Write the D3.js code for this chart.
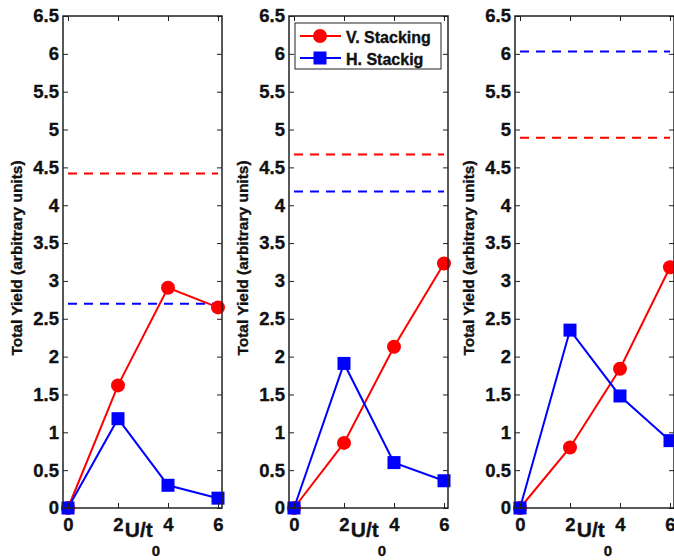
<!DOCTYPE html>
<html>
<head>
<meta charset="utf-8">
<script src="https://cdn.jsdelivr.net/npm/d3@7/dist/d3.min.js"></script>
<style>
  body { margin: 0; background: #fff; }
  svg text { font-family: "Liberation Sans", Arial, sans-serif; font-weight: bold; stroke: #111; stroke-width: 0.35px; }
</style>
</head>
<body>
<div id="viz"></div>
<script>
// data, one entry per panel
var uValues = [0, 2, 4, 6];
var vStacking = [
  [0, 1.62, 2.91, 2.65],
  [0, 0.86, 2.13, 3.23],
  [0, 0.80, 1.84, 3.18]
];
var hStacking = [
  [0, 1.18, 0.30, 0.13],
  [0, 1.91, 0.60, 0.36],
  [0, 2.35, 1.48, 0.89]
];
var vLimit = [4.42, 4.67, 4.89];   // red dashed
var hLimit = [2.70, 4.18, 6.03];   // blue dashed
var yTicks = [0, 0.5, 1, 1.5, 2, 2.5, 3, 3.5, 4, 4.5, 5, 5.5, 6, 6.5];
var xTicks = [0, 2, 4, 6];
var seriesNames = ["V. Stacking", "H. Stackig"];

var W = 674, H = 560;
var panelLeft = [63, 289, 515];
var panelW = 159;
var plotTop = 16, plotBottom = 508;   // "top" is taken by window.top

var svg = d3.select("#viz").append("svg")
  .attr("width", W)
  .attr("height", H);

var y = d3.scaleLinear().domain([0, 6.5]).range([plotBottom, plotTop]);

function drawPanel(i) {
  var x = d3.scaleLinear().domain([-0.2, 6.16]).range([panelLeft[i], panelLeft[i] + panelW]);
  var g = svg.append("g");

  // dashed reference levels
  var refs = [[vLimit[i], "#ff0000"], [hLimit[i], "#0000ff"]];
  refs.forEach(function(r) {
    g.append("line")
      .attr("x1", x(0)).attr("x2", x(6))
      .attr("y1", y(r[0])).attr("y2", y(r[0]))
      .style("stroke", r[1])
      .style("stroke-width", 2)
      .style("stroke-dasharray", "9,7");
  });

  var line = d3.line()
    .x(function(d, j) { return x(uValues[j]); })
    .y(function(d) { return y(d); });

  // V stacking, circles
  g.append("path").datum(vStacking[i])
    .attr("d", line)
    .style("fill", "none").style("stroke", "#ff0000").style("stroke-width", 2);
  g.selectAll(".vdot").data(vStacking[i]).enter().append("circle")
    .attr("cx", function(d, j) { return x(uValues[j]); })
    .attr("cy", function(d) { return y(d); })
    .attr("r", 7)
    .style("fill", "#ff0000");

  // H stacking, squares
  g.append("path").datum(hStacking[i])
    .attr("d", line)
    .style("fill", "none").style("stroke", "#0000ff").style("stroke-width", 2);
  g.selectAll(".hsq").data(hStacking[i]).enter().append("rect")
    .attr("x", function(d, j) { return x(uValues[j]) - 6.5; })
    .attr("y", function(d) { return y(d) - 6.5; })
    .attr("width", 13).attr("height", 13)
    .style("fill", "#0000ff");

  // axes, ticks pointing inward on all four sides
  var left = g.append("g").attr("transform", "translate(" + panelLeft[i] + ",0)")
    .call(d3.axisLeft(y).tickValues(yTicks).tickFormat(d3.format("")).tickSizeInner(-5).tickSizeOuter(0).tickPadding(4));
  var right = g.append("g").attr("transform", "translate(" + (panelLeft[i] + panelW) + ",0)")
    .call(d3.axisRight(y).tickValues(yTicks).tickFormat("").tickSizeInner(-5).tickSizeOuter(0));
  var bot = g.append("g").attr("transform", "translate(0," + plotBottom + ")")
    .call(d3.axisBottom(x).tickValues(xTicks).tickFormat(d3.format("d")).tickSizeInner(-5).tickSizeOuter(0).tickPadding(10));
  var tp = g.append("g").attr("transform", "translate(0," + plotTop + ")")
    .call(d3.axisTop(x).tickValues(xTicks).tickFormat("").tickSizeInner(-5).tickSizeOuter(0));

  [left, right, bot, tp].forEach(function(a) {
    a.select(".domain").remove();
    a.selectAll("line").style("stroke", "#222");
    a.selectAll("text").style("font-size", "18.5px").style("fill", "#111")
      .style("font-family", "'Liberation Sans', Arial, sans-serif");
  });

  g.append("rect")
    .attr("x", panelLeft[i]).attr("y", plotTop)
    .attr("width", panelW).attr("height", plotBottom - plotTop)
    .style("fill", "none").style("stroke", "#222").style("stroke-width", 1.5);

  // y label
  g.append("text")
    .attr("transform", "translate(" + (panelLeft[i] - 41) + "," + 258 + ") rotate(-90)")
    .attr("text-anchor", "middle")
    .style("font-size", "15.5px")
    .style("fill", "#111")
    .text("Total Yield (arbitrary units)");

  // x label U/t0
  var xl = g.append("text")
    .attr("x", panelLeft[i] + panelW / 2)
    .attr("y", 537)
    .attr("text-anchor", "middle")
    .style("font-size", "21px")
    .style("fill", "#111");
  xl.append("tspan").text("U/t");
  xl.append("tspan").attr("dx", -1).attr("dy", 19).style("font-size", "15px").text("0");

  return x;
}

for (var i = 0; i < 3; i++) {
  drawPanel(i);
}

// legend in the middle panel
var lg = svg.append("g");
lg.append("rect")
  .attr("x", 295).attr("y", 23).attr("width", 146).attr("height", 46)
  .style("fill", "#fff").style("stroke", "#222").style("stroke-width", 1);
var legendColors = ["#ff0000", "#0000ff"];
seriesNames.forEach(function(name, k) {
  var ly = 36 + k * 22;
  lg.append("line")
    .attr("x1", 300).attr("x2", 341).attr("y1", ly).attr("y2", ly)
    .style("stroke", legendColors[k]).style("stroke-width", 2);
  if (k === 0) {
    lg.append("circle").attr("cx", 320).attr("cy", ly).attr("r", 7).style("fill", legendColors[k]);
  } else {
    lg.append("rect").attr("x", 313.5).attr("y", ly - 6.5).attr("width", 13).attr("height", 13).style("fill", legendColors[k]);
  }
  lg.append("text")
    .attr("x", 346).attr("y", ly + 6.5)
    .style("font-size", "16px")
    .style("fill", "#111")
    .text(name);
});
</script>
</body>
</html>
